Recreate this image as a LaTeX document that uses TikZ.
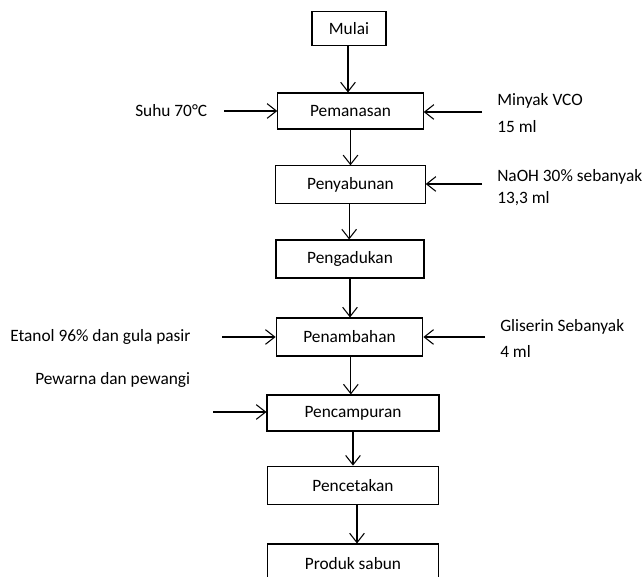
\documentclass[tikz,border=0pt]{standalone}
\usepackage{fontspec}
\setmainfont{Carlito}
\usetikzlibrary{arrows.meta}
\begin{document}
\begin{tikzpicture}[x=0.75pt,y=-0.75pt,
  font=\fontsize{13}{15.6}\selectfont,
  box/.style={draw, line width=0.8pt, inner sep=0pt, minimum height=27pt},
  lbl/.style={inner sep=0pt, anchor=west, align=left},
  flow/.style={line width=0.8pt, -{Straight Barb[length=7pt,width=11pt,line width=0.8pt]}}]
\useasboundingbox (0,0) rectangle (644,577);
\node[box, minimum width=55.5pt, minimum height=26pt] (mulai) at (349,28.5) {Mulai};
\node[box, minimum width=109pt] (pemanasan) at (350.5,111) {Pemanasan};
\node[box, minimum width=112pt, minimum height=28pt] (penyabunan) at (350.5,184.5) {Penyabunan};
\node[box, minimum width=111pt, minimum height=28.5pt] (pengadukan) at (350,259) {Pengadukan};
\node[box, minimum width=110pt, minimum height=28.5pt] (penambahan) at (349.5,337) {Penambahan};
\node[box, minimum width=129pt] (pencampuran) at (353,413) {Pencampuran};
\node[box, minimum width=128pt, minimum height=29pt] (pencetakan) at (353,485.5) {Pencetakan};
\node[box, minimum width=128pt, minimum height=30pt] (produk) at (353,564) {Produk sabun};

\node[lbl] (suhu) at (135,111) {Suhu 70°C};
\node[lbl] (minyak) at (497,113) {Minyak VCO\\[4pt]15 ml};
\node[lbl] (naoh) at (497,187.5) {NaOH 30\% sebanyak\\[1.5pt]13,3 ml};
\node[lbl] (etanol) at (10,337) {Etanol 96\% dan gula pasir};
\node[lbl] (gliserin) at (500,338.5) {Gliserin Sebanyak\\[3.5pt]4 ml};
\node[lbl] (pewarna) at (35,380) {Pewarna dan pewangi};

\coordinate (suhuEnd) at (224,111);
\coordinate (minyakEnd) at (482,112);
\coordinate (naohEnd) at (482,184);
\coordinate (etanolEnd) at (222,337);
\coordinate (gliserinEnd) at (485,337);
\coordinate (pewarnaEnd) at (213,412);

\draw[flow] (suhuEnd) -- (suhuEnd -| pemanasan.west);
\draw[flow] (minyakEnd) -- (minyakEnd -| pemanasan.east);
\draw[flow] (naohEnd) -- (naohEnd -| penyabunan.east);
\draw[flow] (etanolEnd) -- (etanolEnd -| penambahan.west);
\draw[flow] (gliserinEnd) -- (gliserinEnd -| penambahan.east);
\draw[flow] (pewarnaEnd) -- (pewarnaEnd -| pencampuran.west);

\draw[flow] ([xshift=-0.75pt]mulai.south) -- ([xshift=-0.75pt]mulai.south |- pemanasan.north);
\draw[flow] (pemanasan.south) -- (pemanasan.south |- penyabunan.north);
\draw[flow] ([xshift=-1pt]penyabunan.south) -- ([xshift=-1pt]penyabunan.south |- pengadukan.north);
\draw[flow] (pengadukan.south) -- (pengadukan.south |- penambahan.north);
\draw[flow] ([xshift=1pt]penambahan.south) -- ([xshift=1pt]penambahan.south |- pencampuran.north);
\draw[flow] (pencampuran.south) -- (pencampuran.south |- pencetakan.north);
\draw[flow] ([xshift=3pt]pencetakan.south) -- ([xshift=3pt]pencetakan.south |- produk.north);
\end{tikzpicture}
\end{document}
